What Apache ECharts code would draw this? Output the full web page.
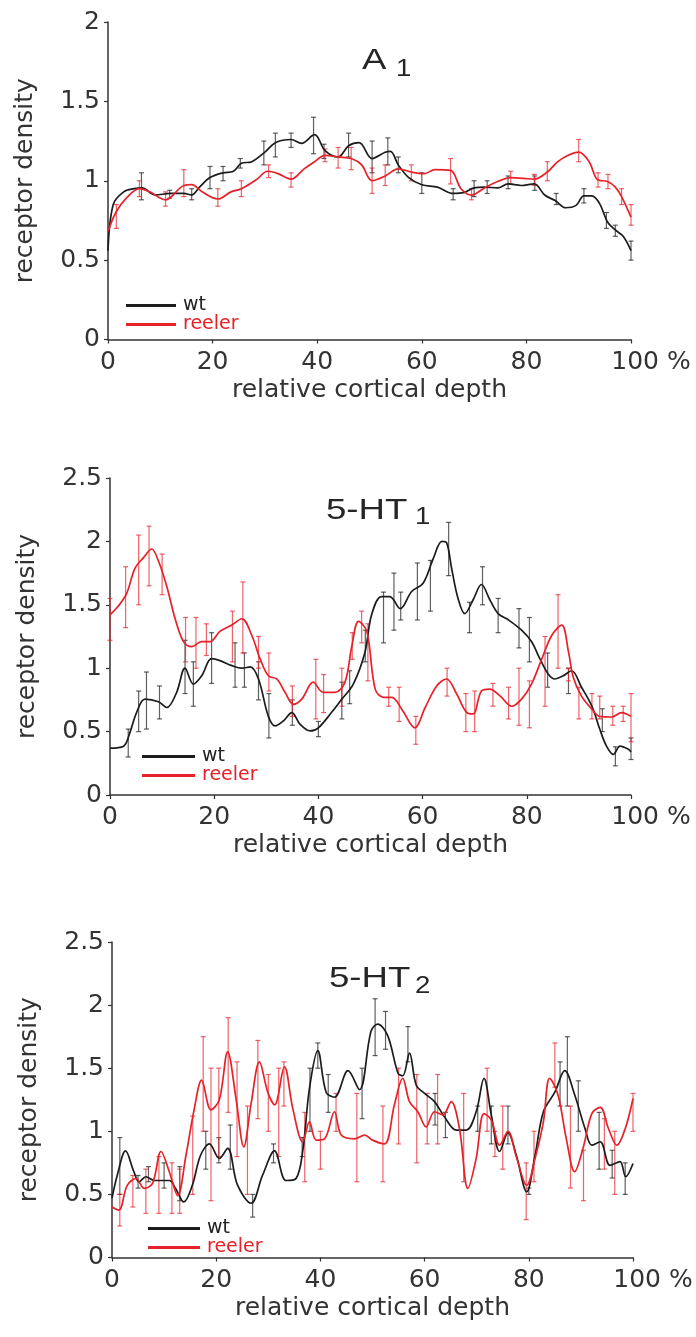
<!DOCTYPE html>
<html>
<head>
<meta charset="utf-8">
<script src="https://cdn.jsdelivr.net/npm/echarts@6/dist/echarts.min.js"></script>
<style>
html,body{margin:0;padding:0;background:#fff;}
#chart{width:696px;height:1337px;}
</style>
</head>
<body>
<div id="chart"></div>
<script>
// ---------- DATA ----------
const xTicks = [0, 20, 40, 60, 80, 100];
const panelTitles = [['A', '1'], ['5-HT', '1'], ['5-HT', '2']];
const seriesNames = ['wt', 'reeler'];

// Panel A1
const a1WtX = [0,1,3,5,6.5,9,12,14.5,16,17.5,19.5,22,24,25.5,27.5,30,32,35,37,39.5,41.5,44,46,48,50.5,53,54,55.5,57.5,60,63,66,68,70,72,74.5,76.5,79,81.5,83.5,85.5,87.5,89.5,91,92.5,94,95.5,97,98.5,100];
const a1WtY = [0.56,0.85,0.93,0.95,0.955,0.91,0.92,0.92,0.91,0.96,1.02,1.05,1.06,1.11,1.12,1.18,1.24,1.26,1.235,1.29,1.19,1.15,1.22,1.24,1.14,1.18,1.185,1.10,1.02,0.975,0.96,0.92,0.925,0.955,0.96,0.955,0.98,0.97,0.98,0.91,0.875,0.83,0.845,0.905,0.905,0.856,0.74,0.69,0.65,0.56];
const a1ReX = [0,1.5,3.5,6,8,11,14.5,16,18,21,23.5,25.5,28.5,30.5,32.5,35,37.5,39.5,41.5,44,46.5,48.5,50.5,53,55.5,58,60.5,62.5,65.5,67.5,69.5,72,74.5,77,79.5,81.5,84,86,88,90,92,93.5,95.5,97,98.2,100];
const a1ReY = [0.68,0.80,0.89,0.95,0.93,0.88,0.97,0.975,0.93,0.885,0.93,0.95,1.01,1.06,1.045,1.01,1.075,1.12,1.16,1.15,1.14,1.10,1.0,1.03,1.075,1.055,1.045,1.07,1.065,0.95,0.91,0.955,0.995,1.02,1.015,1.01,1.055,1.12,1.16,1.18,1.12,1.01,0.995,0.96,0.90,0.77];
const a1WtErr = [[6.4,0.88,1.05],[11.8,0.89,0.94],[16,0.88,0.95],[19.5,0.95,1.09],[22,1.0,1.09],[25.3,1.08,1.14],[29.8,1.1,1.25],[32,1.15,1.3],[35,1.21,1.3],[39.3,1.17,1.4],[41.3,1.14,1.23],[46,1.15,1.3],[50.5,1.05,1.25],[53.5,1.1,1.27],[55.5,1.05,1.15],[60,0.92,1.05],[66,0.88,0.95],[70,0.9,1.0],[72.5,0.92,1.0],[76.5,0.95,1.03],[81.6,0.94,1.03],[85.7,0.85,0.92],[91,0.86,0.95],[95.3,0.7,0.8],[97,0.65,0.72],[100,0.5,0.62]];
const a1ReErr = [[1.6,0.7,0.85],[6,0.9,1.0],[11,0.84,0.93],[14.5,0.9,1.07],[21,0.84,0.95],[25.5,0.9,1.0],[30.7,1.02,1.1],[35,0.96,1.05],[41.5,1.12,1.2],[44,1.08,1.21],[46.5,1.07,1.21],[50.5,0.92,1.08],[53,0.97,1.1],[58,1.0,1.1],[65.5,0.98,1.14],[69.5,0.88,0.95],[77,0.98,1.06],[81.5,0.97,1.04],[84,1.0,1.12],[90,1.12,1.26],[93.7,0.96,1.05],[95.6,0.95,1.04],[98.2,0.85,0.95],[100,0.72,0.85]];

// Panel 5-HT1
const h1WtX = [0,2.6,3.8,5.1,6.7,9.3,10.9,12.8,14.4,16,17.6,19.5,21.1,23.4,25.3,26.9,28.5,30.4,31.7,33.3,34.9,36.5,38.4,40,42.5,44.5,46.7,48.9,50.2,52.1,53.7,55.7,57.9,60.1,62.1,63.7,64.6,65.6,66.8,68.1,69.7,71.3,72.9,74.5,76.5,79,80.9,82.5,84.1,85.4,87,88.6,90.5,92.5,94,95.3,96.6,97.9,99.5,100];
const h1WtY = [0.37,0.385,0.49,0.65,0.756,0.735,0.69,0.81,1.0,0.875,0.94,1.075,1.06,1.02,1.0,1.01,0.915,0.62,0.545,0.585,0.65,0.557,0.505,0.53,0.65,0.756,0.875,1.12,1.42,1.565,1.565,1.47,1.605,1.67,1.87,2.0,1.99,1.78,1.55,1.43,1.54,1.66,1.54,1.43,1.38,1.30,1.21,1.075,0.955,0.915,0.94,0.98,0.85,0.70,0.52,0.385,0.32,0.385,0.36,0.34];
const h1ReX = [0,1.6,3.2,4.8,6.4,8,9.3,10.9,12.5,14.1,15.7,17.6,19.2,21.1,23.4,25.3,27.2,28.8,30.4,32,33.6,35.2,36.8,39,40.9,43.2,45.1,46.4,47.7,49.3,50.9,52.5,54.1,56,58.5,60.5,62.7,64.6,66.5,68.5,69.7,71.3,72.9,74.9,77.1,79,80.9,82.9,84.8,86.7,88,88.9,90.5,92.5,94,96.3,98.2,100];
const h1ReY = [1.42,1.49,1.59,1.79,1.87,1.94,1.845,1.645,1.39,1.21,1.17,1.21,1.21,1.29,1.34,1.39,1.26,1.075,0.94,0.915,0.81,0.715,0.756,0.89,0.81,0.81,0.89,1.17,1.37,1.29,0.835,0.77,0.77,0.677,0.53,0.69,0.86,0.915,0.80,0.65,0.64,0.82,0.835,0.78,0.70,0.756,0.875,1.075,1.26,1.34,1.13,0.93,0.78,0.677,0.62,0.615,0.65,0.62];
const h1WtErr = [[3.5,0.3,0.52],[5.5,0.5,0.82],[7,0.52,0.97],[9.5,0.6,0.86],[14.4,0.8,1.22],[16,0.7,1.05],[19.5,0.88,1.28],[24,0.85,1.2],[25.8,0.85,1.12],[28.5,0.75,1.05],[30.5,0.45,0.8],[35,0.55,0.75],[40,0.46,0.58],[44.5,0.6,0.89],[46,0.72,0.98],[49,1.05,1.3],[52.5,1.2,1.6],[54.5,1.3,1.75],[55.8,1.38,1.6],[59,1.38,1.83],[61.5,1.45,1.85],[65,1.73,2.15],[69,1.28,1.52],[71.5,1.5,1.8],[74.5,1.28,1.55],[78.5,1.16,1.47],[80.5,1.05,1.4],[84,0.85,1.12],[88,0.8,1.0],[94.5,0.5,0.68],[97,0.23,0.38],[100,0.28,0.45]];
const h1ReErr = [[0,1.22,1.55],[3,1.32,1.8],[5.5,1.5,2.05],[7.5,1.65,2.12],[10,1.58,1.9],[14.5,1.05,1.4],[16.5,1.0,1.4],[18.5,1.1,1.35],[23.5,1.05,1.45],[25.5,1.12,1.68],[28.5,1.0,1.25],[30.5,0.82,1.12],[35,0.62,0.86],[39.5,0.6,1.07],[41,0.65,0.95],[44.5,0.7,1.0],[46.5,1.07,1.28],[48.3,1.2,1.45],[49.5,0.9,1.35],[53.5,0.7,0.85],[55.5,0.58,0.85],[58.7,0.4,0.62],[64.7,0.78,1.0],[68.3,0.5,0.8],[70,0.5,0.82],[73.5,0.7,0.88],[76.5,0.6,0.85],[78.5,0.55,1.0],[80.5,0.53,0.9],[83.5,0.7,1.25],[86,1.0,1.58],[88,0.9,1.0],[90,0.6,0.85],[92.5,0.6,0.8],[94,0.6,0.78],[96.5,0.55,0.7],[98.5,0.58,0.7],[100,0.42,0.8]];

// Panel 5-HT2
const h2WtX = [0,1,2.6,4.2,5.2,6.5,8.1,11,12.2,13.8,15.4,17,18.7,20.6,22.2,24.1,26.7,28.9,31.2,33.4,35.3,36.6,37.9,39.5,41.1,42.7,45.3,47.5,49.7,51,52.9,54.9,55.8,57.1,58.4,60,61.9,63.8,66.1,68,69.9,71.4,72.8,74.4,76,77.6,79.6,81.2,82.8,85,86.9,88.8,90.8,92.1,93.7,95.6,97.5,98.6,100];
const h2WtY = [0.47,0.65,0.845,0.68,0.60,0.64,0.61,0.61,0.547,0.44,0.57,0.81,0.90,0.785,0.864,0.573,0.43,0.652,0.845,0.61,0.625,0.84,1.34,1.64,1.31,1.27,1.48,1.33,1.79,1.85,1.76,1.46,1.44,1.62,1.365,1.30,1.235,1.115,1.01,1.01,1.155,1.42,1.13,0.84,0.99,0.81,0.52,0.81,1.155,1.31,1.48,1.29,1.02,0.89,0.917,0.73,0.76,0.64,0.745];
const h2ReX = [0,1.3,2.9,4.6,6.2,7.8,9.4,11,12.6,14.2,15.8,17.2,19,20.6,22.2,23.8,25.3,26.7,28.3,29.9,31.2,33.1,34.7,36.6,37.9,39.2,40.8,42.7,44,46.5,48.5,50,52.3,54.2,55.8,57.1,58.7,60.3,61.9,63.5,65.1,66.7,68.3,69.9,71.4,72.8,74.4,76,77.6,79.6,81.2,82.8,84,85.6,87.2,88.8,90.4,92.1,93.7,95.3,96.9,98.5,100];
const h2ReY = [0.40,0.375,0.57,0.626,0.547,0.59,0.84,0.68,0.49,0.81,1.18,1.405,1.17,1.25,1.63,1.26,0.877,1.22,1.55,1.31,1.21,1.51,1.18,0.917,1.075,0.93,0.94,1.155,0.97,0.94,0.97,0.93,0.90,1.21,1.42,1.235,1.155,1.035,1.155,1.13,1.235,1.02,0.547,0.785,1.14,1.09,0.89,1.0,0.80,0.573,0.785,1.075,1.42,1.29,0.94,0.68,0.864,1.14,1.19,1.02,0.89,1.02,1.26];
const h2WtErr = [[1.5,0.5,0.95],[5,0.55,0.65],[7,0.6,0.72],[10,0.55,0.75],[13,0.45,0.72],[18,0.7,1.0],[20.5,0.75,0.95],[22.7,0.7,1.05],[27,0.32,0.5],[31,0.75,0.9],[36.5,0.8,0.95],[38,1.0,1.5],[39.5,1.5,1.7],[41.5,1.15,1.45],[48,1.1,1.5],[50.5,1.6,2.05],[52.5,1.65,1.95],[56.8,1.55,1.83],[62,1.05,1.3],[64,0.95,1.15],[70.2,1.0,1.2],[72.8,0.9,1.2],[76,0.9,1.2],[80,0.5,0.55],[86,1.2,1.55],[87.4,1.2,1.75],[89.5,1.0,1.4],[93.5,0.7,1.15],[96,0.63,0.85],[98.5,0.5,0.75]];
const h2ReErr = [[1.5,0.25,0.5],[4,0.4,0.65],[6.5,0.35,0.7],[9,0.35,0.8],[11.5,0.35,0.75],[13,0.35,0.7],[15.5,0.5,1.12],[17.5,1.0,1.75],[19,0.45,1.5],[20.5,0.8,1.5],[22.3,1.15,1.9],[24,0.8,1.55],[26,0.5,1.2],[28,1.1,1.72],[30,1.0,1.45],[32,0.8,1.5],[33,1.2,1.55],[37,0.6,1.15],[40,0.7,1.0],[43,1.0,1.3],[47,0.6,1.3],[52,0.6,1.2],[55,0.9,1.5],[58.5,0.75,1.45],[60.5,0.9,1.3],[62.5,0.9,1.45],[67.5,0.6,1.3],[72,1.0,1.5],[73.5,0.8,1.0],[75,0.7,1.2],[79.5,0.3,0.75],[81,0.6,1.0],[85,1.35,1.7],[88,0.55,1.2],[90.5,0.45,0.85],[94.5,0.7,1.1],[96.5,0.5,1.0],[100,1.0,1.3]];

const yMaxes = [2, 2.5, 2.5];

// ---------- CHART ----------
const FONT = 'DejaVu Sans';
const TXT = '#333';
const BLACK = '#1c1c1c';
const RED = '#e62129';

const zip = (xs, ys) => xs.map((x, i) => [x, ys[i]]);

const grids = [
  {left: 108, right: 65, top: 22, bottom: 1337 - 339.5},
  {left: 110, right: 65, top: 478, bottom: 1337 - 795},
  {left: 112, right: 63, top: 942, bottom: 1337 - 1257.5}
];

const xAxes = grids.map((g, i) => ({
  type: 'value', gridIndex: i, min: 0, max: 100, interval: 20,
  name: 'relative cortical depth', nameLocation: 'middle', nameGap: 38,
  nameTextStyle: {fontFamily: FONT, fontSize: 25, color: TXT},
  axisLine: {show: true, lineStyle: {color: '#333', width: 1.5}},
  axisTick: {show: true, inside: false, length: 4, lineStyle: {color: '#333', width: 1.2}},
  splitLine: {show: false},
  axisLabel: {
    fontFamily: FONT, fontSize: 25, color: TXT, margin: 10,
    formatter: v => v === 100 ? '{p|100 %}' : String(v),
    rich: {p: {fontFamily: FONT, fontSize: 25, color: TXT, padding: [0, 0, 0, 40]}}
  }
}));

const yAxes = grids.map((g, i) => ({
  type: 'value', gridIndex: i, min: 0, max: yMaxes[i], interval: 0.5,
  name: 'receptor density', nameLocation: 'middle', nameGap: 70, nameRotate: 90,
  nameTextStyle: {fontFamily: FONT, fontSize: 25, color: TXT},
  axisLine: {show: true, lineStyle: {color: '#333', width: 1.5}},
  axisTick: {show: true, inside: false, length: 4, lineStyle: {color: '#333', width: 1.2}},
  splitLine: {show: false},
  axisLabel: {fontFamily: FONT, fontSize: 25, color: TXT, margin: 8}
}));

function errSeries(name, data, idx, color) {
  return {
    type: 'custom', name: name, xAxisIndex: idx, yAxisIndex: idx,
    data: data, encode: {x: 0, y: [1, 2]}, z: 2, silent: true,
    renderItem: function (params, api) {
      const lo = api.coord([api.value(0), api.value(1)]);
      const hi = api.coord([api.value(0), api.value(2)]);
      const st = {stroke: color, lineWidth: 1.2, opacity: 0.7};
      const cw = 2.5;
      return {type: 'group', children: [
        {type: 'line', shape: {x1: lo[0], y1: lo[1], x2: hi[0], y2: hi[1]}, style: st},
        {type: 'line', shape: {x1: lo[0] - cw, y1: lo[1], x2: lo[0] + cw, y2: lo[1]}, style: st},
        {type: 'line', shape: {x1: hi[0] - cw, y1: hi[1], x2: hi[0] + cw, y2: hi[1]}, style: st}
      ]};
    }
  };
}

function lineSeries(name, xs, ys, idx, color) {
  return {
    type: 'line', name: name, xAxisIndex: idx, yAxisIndex: idx,
    data: zip(xs, ys), showSymbol: false, symbol: 'none', smooth: 0.35, z: 3,
    color: color, lineStyle: {color: color, width: 1.7}
  };
}

const panels = [
  {wt: [a1WtX, a1WtY], re: [a1ReX, a1ReY], wtErr: a1WtErr, reErr: a1ReErr},
  {wt: [h1WtX, h1WtY], re: [h1ReX, h1ReY], wtErr: h1WtErr, reErr: h1ReErr},
  {wt: [h2WtX, h2WtY], re: [h2ReX, h2ReY], wtErr: h2WtErr, reErr: h2ReErr}
];

const series = [];
panels.forEach((p, i) => {
  series.push(lineSeries(seriesNames[0], p.wt[0], p.wt[1], i, BLACK));
  series.push(lineSeries(seriesNames[1], p.re[0], p.re[1], i, RED));
});
panels.forEach((p, i) => {
  series.push(errSeries('wt error ' + i, p.wtErr, i, BLACK));
  series.push(errSeries('reeler error ' + i, p.reErr, i, RED));
});

const legendPos = [
  {left: 126, top: 296, w: 50},
  {left: 142, top: 747, w: 53},
  {left: 148, top: 1219, w: 52}
];
const legends = legendPos.map(l => ({
  left: l.left, top: l.top, orient: 'vertical', padding: 0, itemGap: 0,
  itemWidth: l.w, itemHeight: 3, icon: 'rect', selectedMode: false,
  textStyle: {fontFamily: FONT, fontSize: 19, lineHeight: 18, padding: [0, 0, 0, 2]},
  data: [
    {name: seriesNames[0], itemStyle: {color: BLACK}, textStyle: {color: '#222'}},
    {name: seriesNames[1], itemStyle: {color: RED}, textStyle: {color: RED}}
  ]
}));

const titlePos = [
  {x: 362, y: 60.5, sx: 396, sy: 69.5},
  {x: 326, y: 511, sx: 415, sy: 518},
  {x: 329, y: 979, sx: 415, sy: 987}
];
const graphics = [];
panelTitles.forEach((t, i) => {
  const p = titlePos[i];
  graphics.push({type: 'text', x: p.x, y: p.y, scaleX: 1.22,
    style: {text: t[0], fontFamily: 'Liberation Sans', fontSize: 30, fill: '#262626', align: 'left', verticalAlign: 'middle'}});
  graphics.push({type: 'text', x: p.sx, y: p.sy, scaleX: 1.2,
    style: {text: t[1], fontFamily: 'Liberation Sans', fontSize: 23, fill: '#262626', align: 'left', verticalAlign: 'middle'}});
});

const chart = echarts.init(document.getElementById('chart'), null, {renderer: 'canvas'});
chart.setOption({
  animation: false,
  backgroundColor: '#ffffff',
  grid: grids,
  xAxis: xAxes,
  yAxis: yAxes,
  legend: legends,
  graphic: graphics,
  series: series
});
</script>
</body>
</html>
